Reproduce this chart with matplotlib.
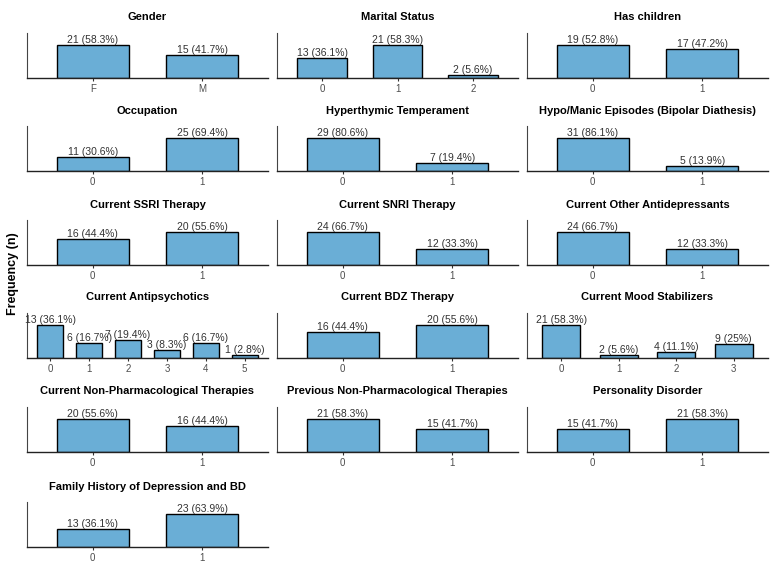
import matplotlib
matplotlib.use("Agg")
import matplotlib.pyplot as plt

plt.rcParams['font.family'] = ['Liberation Sans', 'DejaVu Sans']

# Data (N = 36)
TOTAL = 36

titles = [
    "Gender", "Marital Status", "Has children",
    "Occupation", "Hyperthymic Temperament", "Hypo/Manic Episodes (Bipolar Diathesis)",
    "Current SSRI Therapy", "Current SNRI Therapy", "Current Other Antidepressants",
    "Current Antipsychotics", "Current BDZ Therapy", "Current Mood Stabilizers",
    "Current Non-Pharmacological Therapies", "Previous Non-Pharmacological Therapies",
    "Personality Disorder",
    "Family History of Depression and BD",
]

categories = [
    ["F", "M"], ["0", "1", "2"], ["0", "1"],
    ["0", "1"], ["0", "1"], ["0", "1"],
    ["0", "1"], ["0", "1"], ["0", "1"],
    ["0", "1", "2", "3", "4", "5"], ["0", "1"], ["0", "1", "2", "3"],
    ["0", "1"], ["0", "1"], ["0", "1"],
    ["0", "1"],
]

counts = [
    [21, 15], [13, 21, 2], [19, 17],
    [11, 25], [29, 7], [31, 5],
    [16, 20], [24, 12], [24, 12],
    [13, 6, 7, 3, 6, 1], [16, 20], [21, 2, 4, 9],
    [20, 16], [21, 15], [15, 21],
    [13, 23],
]

BAR_COLOR = "#6AAED6"

W, H = 779, 570
fig = plt.figure(figsize=(W / 100, H / 100), dpi=100)

col_left = [27, 277, 527]
row_bottom = [78, 171, 265, 358, 452, 547]
ax_w, ax_h = 241, 45

for i, (title, cats, vals) in enumerate(zip(titles, categories, counts)):
    r, c = divmod(i, 3)
    ax = fig.add_axes([col_left[c] / W, 1 - row_bottom[r] / H, ax_w / W, ax_h / H])
    x = list(range(len(cats)))
    ax.bar(x, vals, width=0.66, color=BAR_COLOR, edgecolor="black", linewidth=1.0)
    for xi, v in zip(x, vals):
        pct = round(v / TOTAL * 100, 1)
        ax.text(xi, v, f"{v} ({pct:g}%)", ha="center", va="bottom",
                fontsize=7.5, color="#333333")
    ax.set_xlim(-0.6, len(cats) - 1 + 0.6)
    ax.set_ylim(0, max(vals) * 1.38)
    ax.set_xticks(x)
    ax.set_xticklabels(cats)
    ax.set_yticks([])
    ax.tick_params(axis="x", length=2.5, width=0.8, color="#333333",
                   labelsize=7, labelcolor="#4D4D4D", pad=2)
    for s in ["top", "right"]:
        ax.spines[s].set_visible(False)
    ax.spines["bottom"].set_color("#222222")
    ax.spines["bottom"].set_linewidth(1.0)
    ax.spines["left"].set_color("#444444")
    ax.spines["left"].set_linewidth(0.8)
    ax.set_title(title, fontsize=8, fontweight="bold", pad=9)

fig.text(13 / W, 1 - 274 / H, "Frequency (n)", rotation=90, ha="center", va="center",
         fontsize=9, fontweight="bold")

fig.savefig("out.png", dpi=100)
